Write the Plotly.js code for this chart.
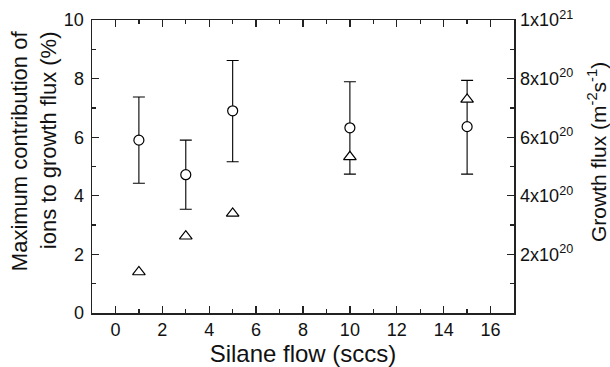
<!DOCTYPE html>
<html>
<head>
<meta charset="utf-8">
<script src="https://cdn.plot.ly/plotly-3.0.1.min.js"></script>
<style>html,body{margin:0;padding:0;background:#fff;}#chart{width:610px;height:367px;}</style>
</head>
<body>
<div id="chart"></div>
<script>
// Silane flow (sccs)
const silaneFlow = [1, 3, 5, 10, 15];
// Maximum contribution of ions to growth flux (%) — left axis
const ionContribution = [5.9, 4.72, 6.9, 6.32, 6.36];
const ionErrUp = [1.47, 1.18, 1.72, 1.57, 1.58];
const ionErrDown = [1.47, 1.18, 1.74, 1.58, 1.62];
// Growth flux (m^-2 s^-1) — right axis
const growthFlux = [1.40e20, 2.62e20, 3.40e20, 5.33e20, 7.29e20];
// Right axis tick labels
const fluxTickVals = [2e20, 4e20, 6e20, 8e20, 1e21];
const fluxTickText = ["2x10<sup>20</sup>", "4x10<sup>20</sup>", "6x10<sup>20</sup>", "8x10<sup>20</sup>", "1x10<sup>21</sup>"];
const fluxMinorVals = [1e20, 3e20, 5e20, 7e20, 9e20];
// Titles
const xTitle = "Silane flow (sccs)";
const yTitle = "Maximum contribution of<br>ions to growth flux (%)";
const y2Title = "Growth flux (m<sup>-2</sup>s<sup>-1</sup>)";

const FONT = "Liberation Sans, Arial, sans-serif";
const AX = "#222";

const traces = [
  {
    x: silaneFlow, y: ionContribution, type: "scatter", mode: "markers", yaxis: "y",
    marker: {symbol: "circle", size: 10, color: "#fff", line: {color: "#000", width: 1.2}},
    error_y: {type: "data", symmetric: false, array: ionErrUp, arrayminus: ionErrDown,
              color: "#000", thickness: 1.1, width: 6},
    showlegend: false, cliponaxis: false
  },
  {
    x: silaneFlow, y: growthFlux, type: "scatter", mode: "markers", yaxis: "y2",
    marker: {symbol: "triangle-up", size: 11, color: "#fff", line: {color: "#000", width: 1.2}},
    showlegend: false, cliponaxis: false
  }
];

const layout = {
  width: 610, height: 367,
  margin: {l: 92, r: 96, t: 20, b: 54, pad: 0},
  paper_bgcolor: "#fff", plot_bgcolor: "#fff",
  font: {family: FONT, color: "#111", size: 18},
  xaxis: {
    range: [-1, 17], tickmode: "linear", tick0: 0, dtick: 2,
    ticks: "inside", ticklen: 7, tickwidth: 1.3, tickcolor: AX,
    showline: true, linecolor: AX, linewidth: 1.5, mirror: "ticks",
    showgrid: false, zeroline: false,
    tickfont: {family: FONT, size: 18},
    minor: {tickmode: "linear", tick0: 0, dtick: 1, ticks: "inside", ticklen: 4, tickwidth: 1.3, tickcolor: AX, showgrid: false},
    title: {text: xTitle, font: {family: FONT, size: 24}, standoff: 4}
  },
  yaxis: {
    range: [0, 10], tickmode: "linear", tick0: 0, dtick: 2,
    ticks: "inside", ticklen: 7, tickwidth: 1.3, tickcolor: AX,
    showline: true, linecolor: AX, linewidth: 1.5,
    showgrid: false, zeroline: false,
    tickfont: {family: FONT, size: 18}, ticklabelstandoff: 3,
    minor: {tickmode: "linear", tick0: 0, dtick: 1, ticks: "inside", ticklen: 4, tickwidth: 1.3, tickcolor: AX, showgrid: false}
  },
  yaxis2: {
    overlaying: "y", side: "right", range: [0, 1e21],
    tickmode: "array", tickvals: fluxTickVals, ticktext: fluxTickText,
    ticks: "inside", ticklen: 7, tickwidth: 1.3, tickcolor: AX,
    showline: true, linecolor: AX, linewidth: 1.5,
    showgrid: false, zeroline: false,
    tickfont: {family: FONT, size: 18}, ticklabelstandoff: 1,
    minor: {tickmode: "array", tickvals: fluxMinorVals, ticks: "inside", ticklen: 4, tickwidth: 1.3, tickcolor: AX, showgrid: false}
  },
  annotations: [
    {text: yTitle, xref: "paper", yref: "paper", x: -0.137, y: 0.553,
     xanchor: "center", yanchor: "middle", textangle: -90, align: "right",
     showarrow: false, font: {family: FONT, size: 22, color: "#111"}},
    {text: y2Title, xref: "paper", yref: "paper", x: 1.197, y: 0.55,
     xanchor: "center", yanchor: "middle", textangle: -90,
     showarrow: false, font: {family: FONT, size: 21, color: "#111"}}
  ]
};

Plotly.newPlot("chart", traces, layout, {displayModeBar: false, staticPlot: true});
</script>
</body>
</html>
